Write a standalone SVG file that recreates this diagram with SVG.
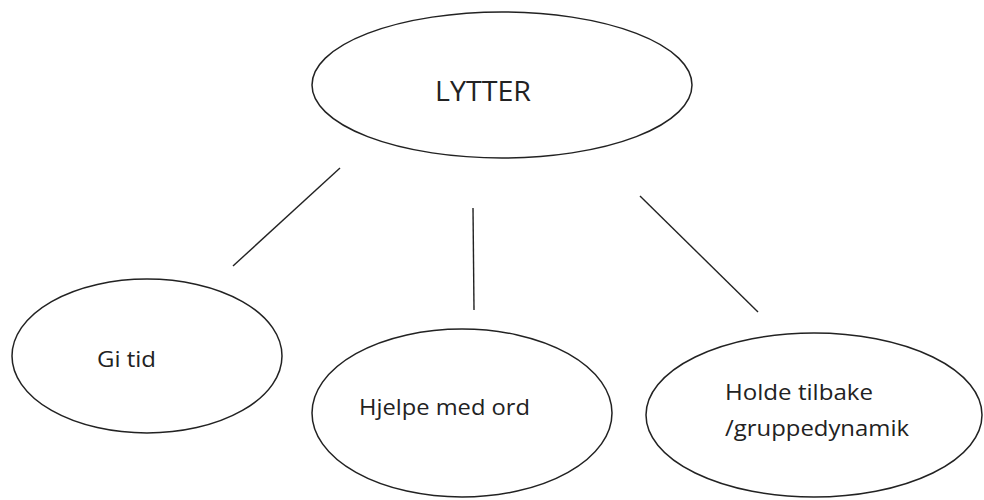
<svg xmlns="http://www.w3.org/2000/svg" width="984" height="500" viewBox="0 0 984 500">
<style>
.n ellipse{fill:#fff;stroke:#222;stroke-width:1.5}
.n text{font-family:"Open Sans","Liberation Sans",Arial,sans-serif;fill:#222}
.c line{stroke:#222;stroke-width:1.4}
</style>
<rect width="984" height="500" fill="#fff"/>
<g class="c" id="connectors">
<line x1="340" y1="168" x2="233" y2="266"/>
<line x1="473" y1="208" x2="474" y2="310"/>
<line x1="640" y1="196" x2="758" y2="312"/>
</g>
<g class="n" id="lytter">
<ellipse cx="502" cy="85" rx="190" ry="73"/>
<text x="435" y="101" font-size="27" textLength="96" lengthAdjust="spacingAndGlyphs">LYTTER</text>
</g>
<g class="n" id="gitid">
<ellipse cx="147" cy="356" rx="135" ry="77"/>
<text x="97" y="367" font-size="21" textLength="59" lengthAdjust="spacingAndGlyphs">Gi tid</text>
</g>
<g class="n" id="hjelpe">
<ellipse cx="462" cy="413" rx="150" ry="84"/>
<text x="359" y="415" font-size="21" textLength="171" lengthAdjust="spacingAndGlyphs">Hjelpe med ord</text>
</g>
<g class="n" id="holde">
<ellipse cx="814" cy="415" rx="168" ry="82"/>
<text x="725" y="400" font-size="21" textLength="148" lengthAdjust="spacingAndGlyphs">Holde tilbake</text>
<text x="725" y="436" font-size="21" textLength="184" lengthAdjust="spacingAndGlyphs">/gruppedynamik</text>
</g>
</svg>
